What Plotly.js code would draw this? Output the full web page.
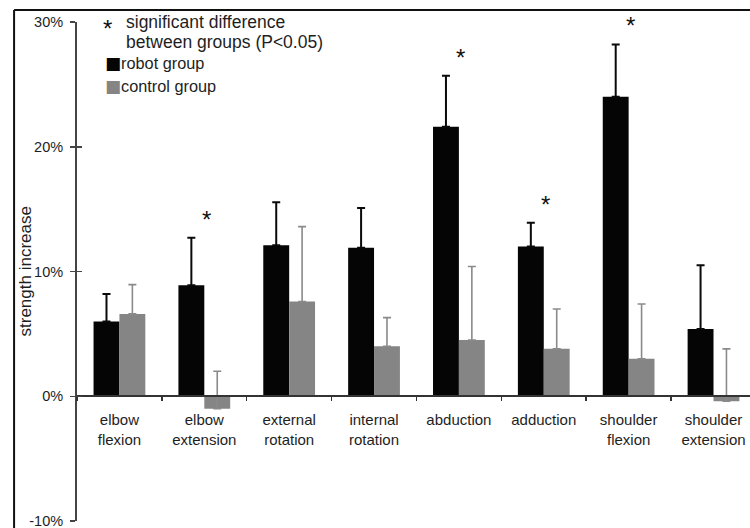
<!DOCTYPE html>
<html>
<head>
<meta charset="utf-8">
<script src="https://cdn.plot.ly/plotly-3.0.1.min.js"></script>
<style>html,body{margin:0;padding:0;background:#fff;}#chart{width:750px;height:528px;}</style>
</head>
<body>
<div id="chart"></div>
<script>
const categories = ['elbow<br>flexion', 'elbow<br>extension', 'external<br>rotation', 'internal<br>rotation', 'abduction', 'adduction', 'shoulder<br>flexion', 'shoulder<br>extension'];
const robotValues = [6.0, 8.9, 12.1, 11.9, 21.6, 12.0, 24.0, 5.4];
const robotErrors = [2.2, 3.8, 3.45, 3.2, 4.1, 1.9, 4.2, 5.1];
const controlValues = [6.6, -1.0, 7.6, 4.0, 4.5, 3.8, 3.0, -0.4];
const controlErrors = [2.35, 3.0, 6.0, 2.3, 5.9, 3.2, 4.4, 4.2];
const significant = [false, true, false, false, true, true, true, false];
const yTickVals = [-10, 0, 10, 20, 30];
const yTickText = ['-10%', '0%', '10%', '20%', '30%'];
const seriesNames = ['robot group', 'control group'];
const yTitle = 'strength increase';
const noteLines = ['significant difference', 'between groups (P&lt;0.05)'];

const yRange = [-10, 30];
const xRange = [-0.5, 7.43];
const FONT = 'Liberation Sans, Arial, sans-serif';
const TXT = '#1e1e1e';

const robot = {
  type: 'bar', name: seriesNames[0], x: categories, y: robotValues,
  marker: {color: '#050505', line: {width: 0}},
  error_y: {type: 'data', symmetric: false, array: robotErrors, arrayminus: robotValues.map(() => 0), color: '#0a0a0a', thickness: 2, width: 4},
  hoverinfo: 'skip'
};
const control = {
  type: 'bar', name: seriesNames[1], x: categories, y: controlValues,
  marker: {color: '#858585', line: {width: 0}},
  error_y: {type: 'data', symmetric: false, array: controlErrors, arrayminus: controlValues.map(() => 0), color: '#8a8a8a', thickness: 1.6, width: 4},
  hoverinfo: 'skip'
};
const dummy = {type: 'scatter', x: [], y: [], yaxis: 'y2', showlegend: false, hoverinfo: 'skip'};

const annotations = [];
categories.forEach((c, i) => {
  if (significant[i]) {
    annotations.push({
      x: c, y: robotValues[i] + robotErrors[i], xref: 'x', yref: 'y',
      text: '*', showarrow: false, yanchor: 'bottom', xshift: 2, yshift: 3,
      font: {family: FONT, size: 24, color: '#111'}
    });
  }
});
// legend (custom, as in the reference)
annotations.push({xref: 'paper', yref: 'paper', x: 0.0446, y: 0.9866, xanchor: 'center', yanchor: 'middle', showarrow: false,
  text: '*', font: {family: FONT, size: 24, color: '#111'}});
annotations.push({xref: 'paper', yref: 'paper', x: 0.0704, y: 1.0, xanchor: 'left', yanchor: 'middle', showarrow: false, align: 'left',
  text: noteLines[0], font: {family: FONT, size: 17.5, color: TXT}});
annotations.push({xref: 'paper', yref: 'paper', x: 0.0704, y: 0.9599, xanchor: 'left', yanchor: 'middle', showarrow: false, align: 'left',
  text: noteLines[1], font: {family: FONT, size: 17.5, color: TXT}});
annotations.push({xref: 'paper', yref: 'paper', x: 0.0405, y: 0.9178, xanchor: 'left', yanchor: 'middle', showarrow: false, align: 'left', borderpad: 0,
  text: '<span style="font-family:DejaVu Sans;font-size:17px;color:#050505">■</span>' + seriesNames[0], font: {family: FONT, size: 16.3, color: TXT}});
annotations.push({xref: 'paper', yref: 'paper', x: 0.0405, y: 0.8717, xanchor: 'left', yanchor: 'middle', showarrow: false, align: 'left', borderpad: 0,
  text: '<span style="font-family:DejaVu Sans;font-size:17px;color:#858585">■</span>' + seriesNames[1], font: {family: FONT, size: 16.3, color: TXT}});
// y axis title
annotations.push({xref: 'paper', yref: 'paper', x: -0.0758, y: 0.5, xanchor: 'center', yanchor: 'middle', showarrow: false,
  textangle: -90, text: yTitle, font: {family: FONT, size: 17, color: TXT}});

const layout = {
  width: 750, height: 528,
  margin: {l: 77, r: 0, t: 22, b: 7, pad: 0},
  paper_bgcolor: '#fff', plot_bgcolor: '#fff',
  showlegend: false,
  barmode: 'group', bargap: 0.39, bargroupgap: 0,
  font: {family: FONT, color: TXT},
  xaxis: {
    type: 'category', range: xRange, anchor: 'free',
    position: (0 - yRange[0]) / (yRange[1] - yRange[0]),
    showline: true, linecolor: '#333', linewidth: 2,
    ticks: 'outside', tickson: 'boundaries', ticklen: 4, tickwidth: 1.5, tickcolor: '#333',
    ticklabelstandoff: 10,
    showgrid: false, zeroline: false,
    tickfont: {family: FONT, size: 15, color: TXT}
  },
  yaxis: {
    range: yRange, tickvals: yTickVals, ticktext: yTickText,
    showline: true, linecolor: '#444', linewidth: 2,
    ticks: 'outside', ticklen: 5, tickwidth: 1.5, tickcolor: '#444',
    ticklabelstandoff: 4, ticklabeloverflow: 'allow',
    showgrid: false, zeroline: false,
    tickfont: {family: FONT, size: 14.5, color: TXT}
  },
  yaxis2: {
    range: yRange, tickvals: yTickVals, overlaying: 'y', side: 'left',
    ticks: 'inside', ticklen: 5, tickwidth: 1.5, tickcolor: '#444',
    showticklabels: false, showline: false, showgrid: false, zeroline: false
  },
  annotations: annotations,
  shapes: [
    {type: 'line', xref: 'paper', yref: 'paper', x0: -0.0935, x1: 1.0, y0: 1.0241, y1: 1.0241, line: {color: '#111', width: 2}},
    {type: 'line', xref: 'paper', yref: 'paper', x0: -0.0935, x1: -0.0935, y0: 1.0241, y1: -0.02, line: {color: '#111', width: 2}}
  ]
};

Plotly.newPlot('chart', [robot, control, dummy], layout, {staticPlot: true, displayModeBar: false});
</script>
</body>
</html>
